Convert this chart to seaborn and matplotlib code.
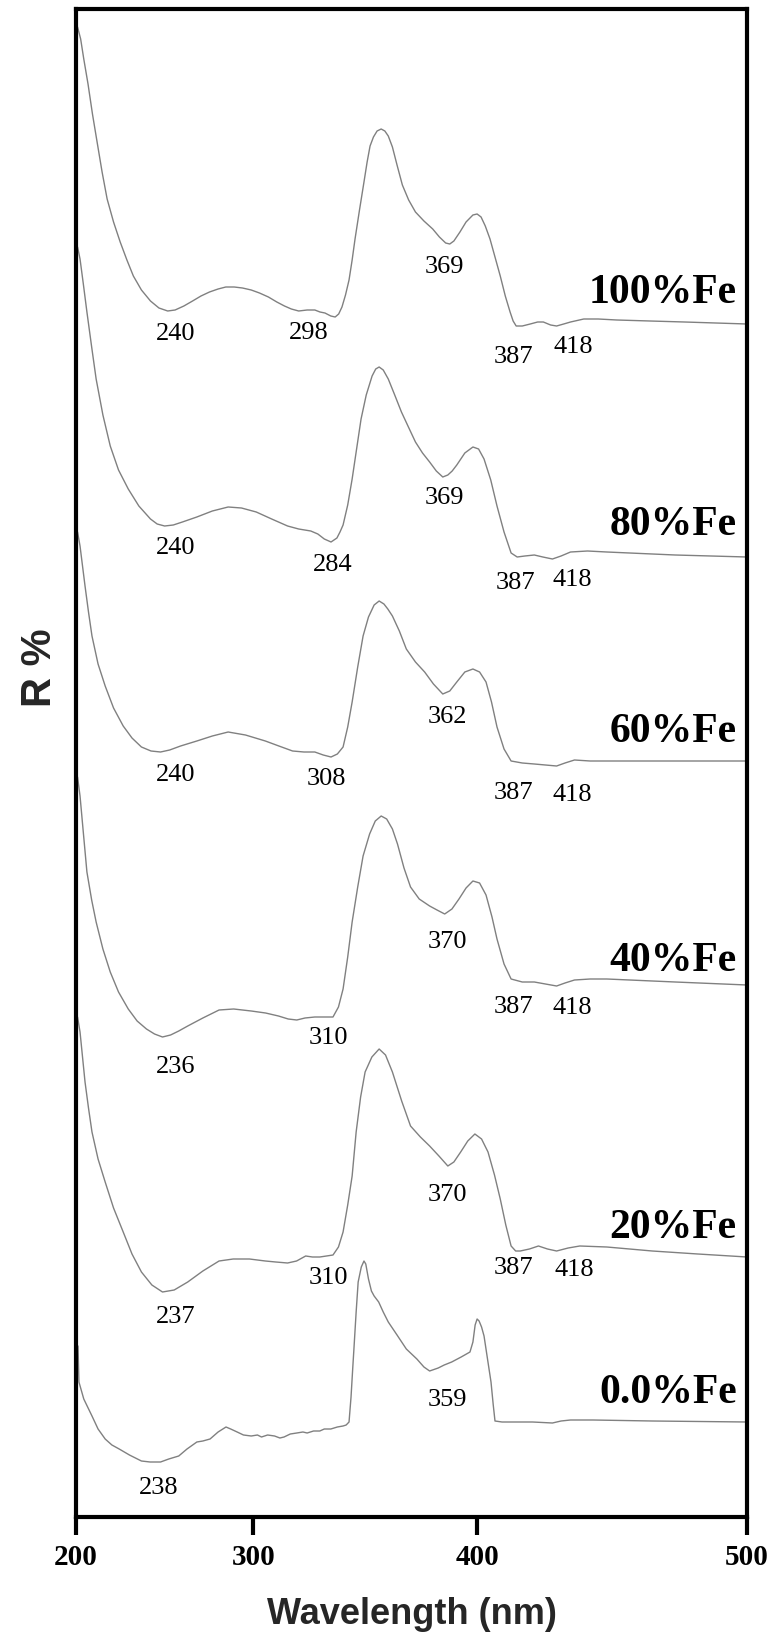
import numpy as np
import pandas as pd
import matplotlib
matplotlib.use("Agg")
import matplotlib.pyplot as plt
from matplotlib.ticker import NullLocator
import seaborn as sns

# ---------------- data ----------------
wl_100 = [201.0, 203.0, 205.0, 207.7, 210.5, 213.4, 216.5, 219.6, 223.5, 227.5, 231.5, 235.3, 240.0,
          245.2, 250.0, 254.9, 259.0, 263.8, 268.5, 273.0, 277.5, 282.0, 286.0, 290.3, 294.5, 298.9,
          303.0, 307.4, 311.5, 315.2, 318.5, 322.0, 326.0, 329.6, 332.0, 334.3, 337.0, 339.0, 340.6,
          342.1, 343.7, 345.3, 346.7, 348.0, 350.0, 352.0, 353.4, 354.7, 356.2, 357.8, 359.6, 361.2,
          362.7, 364.5, 366.5, 368.8, 371.5, 374.4, 378.0, 381.7, 384.5, 387.1, 388.8, 390.5, 393.0,
          395.5, 398.3, 400.0, 401.6, 403.3, 405.2, 407.2, 409.3, 411.3, 413.2, 414.4, 415.6, 418.0,
          421.1, 424.0, 426.2, 429.0, 431.3, 434.0, 436.6, 441.6, 447.0, 453.9, 466.0, 478.3, 500.0]
r_100 = [1490, 1478, 1458, 1433, 1403, 1375, 1345, 1318, 1295, 1275, 1257, 1241, 1227,
         1216, 1209, 1206, 1207, 1211, 1216, 1221, 1225, 1228, 1230, 1230, 1229, 1227,
         1224, 1220, 1215, 1211, 1208, 1206, 1207, 1207, 1205, 1204, 1201, 1200, 1203,
         1210, 1222, 1237, 1257, 1278, 1307, 1335, 1355, 1371, 1380, 1386, 1388, 1386,
         1381, 1370, 1352, 1332, 1317, 1305, 1296, 1288, 1280, 1274, 1273, 1276, 1285,
         1295, 1302, 1303, 1300, 1291, 1278, 1260, 1241, 1221, 1205, 1196, 1191, 1191,
         1193, 1195, 1195, 1192, 1191, 1193, 1195, 1198, 1198, 1197, 1196, 1195, 1193]

wl_80 = [201.0, 202.6, 204.8, 207.0, 210.0, 212.8, 217.0, 221.5, 226.5, 232.3, 238.5, 245.2, 249.0,
         253.2, 258.0, 263.0, 270.8, 279.0, 287.2, 294.0, 301.4, 309.0, 316.7, 322.0, 327.7, 331.0,
         334.0, 337.1, 339.8, 341.2, 342.6, 344.7, 346.7, 348.7, 350.7, 353.0, 355.6, 357.2, 358.7,
         360.5, 362.7, 365.5, 368.4, 371.4, 374.4, 377.4, 380.4, 383.2, 385.9, 388.0, 389.8, 391.7,
         395.0, 398.3, 400.6, 402.8, 405.5, 408.0, 410.8, 413.6, 416.0, 419.0, 422.7, 426.0, 429.7,
         433.0, 436.6, 443.0, 450.2, 475.0, 500.0]
r_80 = [1270, 1258, 1232, 1205, 1170, 1138, 1102, 1071, 1047, 1028, 1011, 998, 993,
        991, 992, 995, 1000, 1006, 1010, 1009, 1005, 998, 991, 988, 986, 983,
        978, 975, 979, 985, 992, 1012, 1038, 1068, 1098, 1122, 1141, 1148, 1150,
        1147, 1138, 1122, 1105, 1090, 1075, 1064, 1055, 1046, 1040, 1042, 1046, 1052,
        1064, 1070, 1068, 1058, 1037, 1011, 985, 964, 960, 961, 962, 960, 958,
        961, 965, 966, 965, 962, 960]

wl_60 = [201.0, 202.6, 204.2, 205.8, 208.0, 210.2, 214.0, 218.4, 223.5, 229.3, 234.5, 240.0, 245.5,
         250.9, 256.0, 262.0, 270.8, 279.0, 287.2, 296.0, 305.9, 312.5, 319.1, 324.5, 329.6, 333.5,
         337.1, 340.0, 342.6, 344.7, 346.7, 349.2, 351.6, 354.0, 356.5, 358.7, 360.8, 362.5, 364.5,
         367.5, 370.5, 374.4, 378.3, 382.0, 385.9, 388.8, 391.7, 395.0, 398.3, 401.0, 403.6, 405.8,
         408.0, 410.8, 413.6, 418.0, 422.7, 427.0, 431.3, 434.5, 438.1, 444.0, 450.2, 475.0, 500.0]
r_60 = [985, 971, 951, 931, 905, 881, 853, 831, 809, 791, 779, 770, 766,
        765, 767, 771, 776, 781, 785, 782, 776, 771, 766, 765, 765, 762,
        760, 763, 770, 790, 815, 850, 881, 900, 912, 916, 913, 908, 901,
        886, 868, 855, 845, 833, 823, 826, 835, 845, 848, 845, 835, 815,
        790, 768, 756, 754, 753, 752, 751, 754, 757, 756, 756, 756, 756]

wl_40 = [201.0, 202.6, 204.8, 207.0, 210.0, 212.8, 217.0, 221.5, 226.5, 232.3, 237.5, 242.9, 247.5,
         252.0, 256.5, 261.0, 265.9, 274.0, 282.5, 290.0, 298.9, 306.0, 312.3, 317.0, 321.1, 325.0,
         329.6, 334.0, 338.0, 340.5, 342.6, 344.7, 346.7, 349.2, 351.6, 354.5, 357.0, 359.6, 362.0,
         364.5, 366.7, 369.5, 372.3, 376.0, 380.4, 383.5, 386.7, 389.7, 392.6, 395.5, 398.3, 401.0,
         403.6, 406.0, 408.0, 410.8, 413.6, 418.0, 422.7, 427.0, 431.3, 434.5, 438.1, 444.0, 450.2,
         475.0, 500.0]
r_40 = [740, 721, 683, 645, 617, 595, 568, 545, 525, 508, 496, 488, 483,
        480, 482, 486, 491, 499, 507, 508, 506, 504, 501, 498, 497, 499,
        500, 500, 500, 510, 528, 560, 595, 630, 661, 683, 696, 701, 698,
        688, 673, 649, 630, 618, 611, 607, 603, 608, 618, 629, 636, 634,
        622, 600, 578, 553, 538, 535, 535, 533, 531, 534, 537, 538, 538,
        535, 532]

wl_20 = [201.0, 202.6, 204.2, 205.8, 208.0, 210.2, 214.0, 218.4, 223.5, 229.3, 234.5, 240.0, 246.0,
         252.0, 258.5, 265.9, 274.0, 282.5, 289.8, 298.0, 305.9, 311.0, 316.7, 321.0, 325.3, 328.5,
         331.9, 335.0, 338.0, 340.5, 342.6, 344.7, 346.7, 348.5, 350.5, 352.5, 355.5, 358.7, 361.5,
         364.5, 368.5, 372.3, 376.5, 380.4, 384.3, 388.0, 390.5, 393.3, 396.2, 399.1, 401.8, 404.4,
         407.0, 409.3, 411.5, 413.6, 415.4, 417.2, 420.8, 424.3, 427.8, 431.3, 435.7, 440.1, 450.2,
         466.8, 483.0, 500.0]
r_20 = [500, 485, 460, 435, 409, 385, 358, 335, 309, 285, 263, 245, 232,
        225, 227, 235, 246, 256, 258, 258, 256, 255, 254, 256, 261, 260,
        260, 261, 262, 270, 285, 312, 341, 385, 420, 445, 460, 468, 462,
        445, 416, 391, 380, 371, 361, 351, 355, 365, 376, 383, 378, 365,
        342, 318, 292, 271, 266, 266, 268, 271, 268, 266, 269, 271, 270,
        266, 263, 260]

wl_0 = [201.3, 201.9, 205.0, 210.2, 214.0, 218.4, 222.5, 226.9, 233.0, 240.0, 245.0, 250.9, 255.5,
        261.0, 265.5, 270.8, 274.0, 277.8, 282.0, 286.1, 288.5, 291.8, 295.0, 298.9, 302.0, 304.0,
        307.0, 310.4, 313.0, 315.0, 318.0, 321.1, 324.0, 326.0, 329.0, 331.9, 334.0, 337.0, 340.0,
        342.6, 344.0, 345.3, 346.2, 347.0, 347.5, 348.5, 349.4, 350.8, 352.0, 352.8, 354.0, 355.3,
        356.5, 358.5, 360.5, 362.7, 366.5, 370.5, 375.0, 378.0, 380.4, 384.0, 386.5, 389.6, 393.5,
        397.1, 398.3, 399.2, 400.0, 400.8, 401.8, 402.8, 404.2, 405.6, 406.5, 407.2, 410.0, 415.2,
        422.0, 429.7, 433.0, 436.6, 445.0, 466.8, 500.0]
r_0 = [171, 135, 118, 101, 88, 78, 72, 68, 62, 56, 55, 55, 58,
       61, 68, 75, 76, 78, 85, 90, 88, 85, 82, 81, 82, 80,
       82, 81, 79, 80, 83, 84, 85, 84, 86, 86, 88, 88, 90,
       91, 92, 95, 120, 150, 168, 205, 235, 250, 256, 253, 238, 226,
       221, 215, 205, 195, 182, 168, 158, 150, 146, 149, 152, 155, 160,
       165, 175, 192, 198, 196, 190, 181, 158, 135, 112, 96, 95, 95,
       95, 94, 96, 97, 97, 96, 95]

series_names = ["100%Fe", "80%Fe", "60%Fe", "40%Fe", "20%Fe", "0.0%Fe"]
series_label_r = [1225, 993, 786, 557, 290, 125]

# peak / valley annotations: (text, wavelength, R)
ann_text = ["240", "298", "369", "387", "418",
            "240", "284", "369", "387", "418",
            "240", "308", "362", "387", "418",
            "236", "310", "370", "387", "418",
            "237", "310", "370", "387", "418",
            "238", "359"]
ann_wl = [259.4, 326.7, 386.7, 414.4, 437.8,
          259.4, 338.0, 386.7, 415.2, 437.4,
          259.4, 335.2, 388.0, 414.4, 437.4,
          259.4, 336.1, 388.0, 414.4, 437.4,
          259.4, 336.1, 388.0, 414.4, 438.1,
          249.8, 388.0]
ann_r = [1184, 1185, 1251, 1161, 1171,
         970, 953, 1020, 935, 938,
         743, 739, 801, 725, 723,
         451, 480, 576, 511, 510,
         201, 240, 323, 250, 248,
         30, 118]

x_ticks = [200, 300, 400, 500]

# ---------------- figure ----------------
sns.set_theme(style="white")
plt.rcParams["font.family"] = ["Liberation Serif", "DejaVu Serif"]

fig = plt.figure(figsize=(7.69, 16.33), dpi=100)
ax = fig.add_axes([76 / 769, 1 - 1518 / 1633, 671 / 769, 1508 / 1633])

frames = []
for name, wl, r in [("100%Fe", wl_100, r_100), ("80%Fe", wl_80, r_80), ("60%Fe", wl_60, r_60),
                    ("40%Fe", wl_40, r_40), ("20%Fe", wl_20, r_20), ("0.0%Fe", wl_0, r_0)]:
    frames.append(pd.DataFrame({"wl": wl, "R": r, "sample": name}))
df = pd.concat(frames, ignore_index=True)

for name in series_names:
    sub = df[df["sample"] == name]
    sns.lineplot(data=sub, x="wl", y="R", ax=ax, color="#808080", linewidth=1.0,
                 sort=False, estimator=None, legend=False)


def fwd(w):
    t = (np.asarray(w, dtype=float) - 200.0) / 300.0
    return 0.69 * t + 0.31 * t * t


def inv(s):
    s = np.asarray(s, dtype=float)
    return 200.0 + 300.0 * (np.sqrt(np.maximum(0.4761 + 1.24 * s, 0.0)) - 0.69) / 0.62


ax.set_xscale("function", functions=(fwd, inv))
ax.set_xlim(200, 500)
ax.set_ylim(0, 1508)

ax.set_xticks(x_ticks, labels=[str(v) for v in x_ticks], fontsize=21, fontweight="bold")
ax.xaxis.set_minor_locator(NullLocator())
ax.set_yticks([])
ax.tick_params(axis="x", direction="out", length=13, width=3, pad=6, bottom=True, colors="black")

for s in ax.spines.values():
    s.set_visible(True)
    s.set_linewidth(3)
    s.set_color("black")

for name, rr in zip(series_names, series_label_r):
    ax.text(496.5, rr, name, ha="right", va="center", fontsize=30, fontweight="bold", color="black")

for t, w, r in zip(ann_text, ann_wl, ann_r):
    ax.text(w, r, t, ha="center", va="center", fontsize=19, color="black")

ax.set_xlabel("Wavelength (nm)", fontsize=26, fontweight="bold",
              family=["Liberation Sans", "DejaVu Sans"])
ax.xaxis.set_label_coords(0.5, -0.0643)
ax.xaxis.label.set_va("center")

ax.set_ylabel("R %", fontsize=30, fontweight="bold", family=["Liberation Sans", "DejaVu Sans"])
ax.yaxis.set_label_coords(-0.054, 0.564)
ax.yaxis.label.set_va("center")

fig.savefig("out.png", dpi=100)
